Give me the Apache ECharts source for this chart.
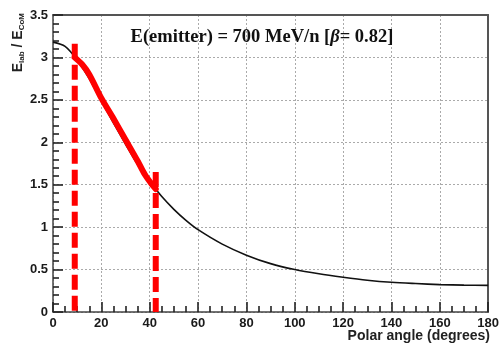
<!DOCTYPE html>
<html>
<head>
<meta charset="utf-8">
<script src="https://cdn.jsdelivr.net/npm/echarts@6/dist/echarts.min.js"></script>
<style>html,body{margin:0;padding:0;background:#fff;}#c{width:502px;height:344px;}</style>
</head>
<body>
<div id="c"></div>
<script>
// Black curve: polar angle (deg) vs E_lab/E_CoM
var angles = [0,5,10,15,20,25,30,35,40,45,50,55,60,70,80,90,100,110,120,130,140,150,160,170,180];
var ratio  = [3.18,3.13,2.97,2.75,2.49,2.23,1.98,1.74,1.54,1.36,1.21,1.08,0.97,0.80,0.67,0.57,0.50,0.45,0.41,0.375,0.35,0.335,0.323,0.317,0.314];
// Red highlighted segment
var redAngles = [9,12,15,20,25,30,35,38,41,42.5];
var redRatio  = [3.0,2.92,2.8,2.52,2.28,2.03,1.78,1.62,1.5,1.45];
// Dashed markers: angle, top value
var markAngles = [9,42.5];
var markTops   = [3.16,1.65];
// Axis ticks
var xTicks = {min:0, max:180, step:20};
var yTicks = {min:0, max:3.5, step:0.5};
var titleText = ['E(emitter) = 700 MeV/n [', '\u03B2', '= 0.82]'];
var xTitle = 'Polar angle (degrees)';

function pairs(xs, ys){ return xs.map(function(x,i){return [x, ys[i]];}); }

var series = [
  {type:'line', data:pairs(angles, ratio), smooth:0.3, showSymbol:false, symbol:'none',
   lineStyle:{color:'#111', width:1.6}, z:2},
  {type:'line', data:pairs(redAngles, redRatio), smooth:0.3, showSymbol:false, symbol:'none',
   lineStyle:{color:'#ff0000', width:6, cap:'round', join:'round'}, z:3}
];
markAngles.forEach(function(a,i){
  series.push({type:'line', data:[[a, markTops[i]],[a, 0]], showSymbol:false, symbol:'none',
    lineStyle:{color:'#ff0000', width:6, type:[15,6], cap:'butt'}, z:4});
});

var axisLabelStyle = {fontFamily:'Liberation Sans', fontWeight:'bold', fontSize:13, color:'#1a1a1a'};

function mainX(){ return {type:'value', min:xTicks.min, max:xTicks.max, interval:xTicks.step, position:'bottom',
    axisLine:{show:true, onZero:false, lineStyle:{color:'#444', width:1.5}},
    axisTick:{show:true, inside:true, length:10, lineStyle:{color:'#222', width:1.6}},
    minorTick:{show:true, splitNumber:4, length:6, lineStyle:{color:'#222', width:1.6}},
    splitLine:{show:true, lineStyle:{color:'#aaa', type:[2,2], width:1}},
    axisLabel:Object.assign({margin:5}, axisLabelStyle)}; }
function mainY(){ return {type:'value', min:yTicks.min, max:yTicks.max, interval:yTicks.step, position:'left',
    axisLine:{show:true, onZero:false, lineStyle:{color:'#444', width:1.5}},
    axisTick:{show:true, inside:true, length:10, lineStyle:{color:'#222', width:1.6}},
    minorTick:{show:true, splitNumber:5, length:6, lineStyle:{color:'#222', width:1.6}},
    splitLine:{show:true, lineStyle:{color:'#aaa', type:[2,2], width:1}},
    axisLabel:Object.assign({margin:5}, axisLabelStyle)}; }
function frameAxis(pos, mn, mx){ return {type:'value', min:mn, max:mx, position:pos,
    axisLine:{show:true, onZero:false, lineStyle:{color:'#555', width:2}},
    axisTick:{show:false}, axisLabel:{show:false}, splitLine:{show:false}}; }

var chart = echarts.init(document.getElementById('c'), null, {renderer:'canvas'});
chart.setOption({
  animation:false,
  backgroundColor:'#fff',
  grid:{left:53, right:10, top:15, bottom:32},
  xAxis:[mainX(), frameAxis('top', xTicks.min, xTicks.max)],
  yAxis:[mainY(), frameAxis('right', yTicks.min, yTicks.max)],
  series:series,
  graphic:[
    {type:'text', x:262, y:37, z:10,
     style:{text:'{n|'+titleText[0]+'}{g|'+titleText[1]+'}{n|'+titleText[2]+'}',
       align:'center', verticalAlign:'middle',
       rich:{n:{fontFamily:'Liberation Serif', fontWeight:'bold', fontSize:18.5, fill:'#111'},
             g:{fontFamily:'Liberation Serif', fontWeight:'bold', fontStyle:'italic', fontSize:18.5, fill:'#111'}}}},
    {type:'text', x:18, y:13, rotation:Math.PI/2, z:10,
     style:{text:'{b|E}{s|lab}{b| / E}{s|CoM}', align:'right', verticalAlign:'middle',
       rich:{b:{fontFamily:'Liberation Sans', fontWeight:'bold', fontSize:14, fill:'#222', lineHeight:16},
             s:{fontFamily:'Liberation Sans', fontWeight:'bold', fontSize:8, fill:'#222', verticalAlign:'bottom', lineHeight:16, padding:[6,0,0,0]}}}},
    {type:'text', x:490, y:336, z:10,
     style:{text:xTitle, align:'right', verticalAlign:'middle',
       font:'bold 14px "Liberation Sans"', fill:'#222'}}
  ]
});
</script>
</body>
</html>
